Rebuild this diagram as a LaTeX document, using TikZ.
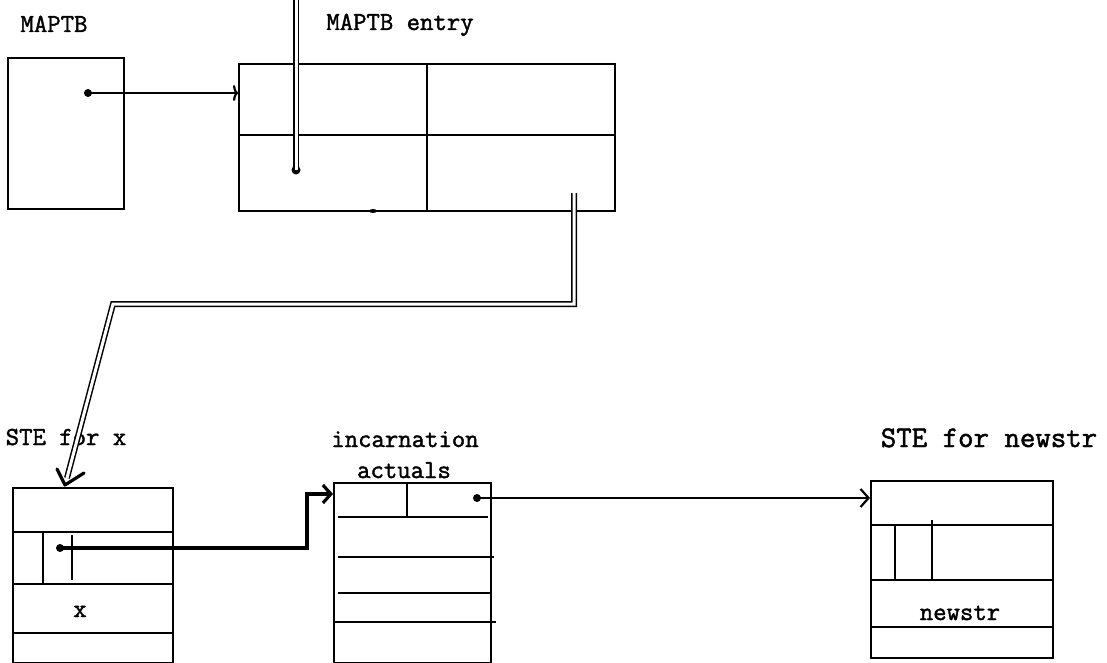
\documentclass[tikz,border=0pt]{standalone}
\usepackage{fontspec}
\newfontfamily\twfont{Latin Modern Mono}[AutoFakeBold=1.6]
\usetikzlibrary{arrows.meta}
\begin{document}
\begin{tikzpicture}[x=1pt,y=-1pt,
  box/.style={draw, line width=2pt, inner sep=0pt, anchor=north west},
  rule/.style={line width=1.8pt},
  lbl/.style={font=\twfont\bfseries\fontsize{26}{28}\selectfont, anchor=base, inner sep=0pt},
  ptr/.style={line width=2.2pt},
  dbl/.style={double, double distance=3pt, line width=1.5pt},
  dotmark/.style={circle, fill, inner sep=0pt, minimum size=8pt}]
\useasboundingbox (0,0) rectangle (1107,663);

% labels
\node[lbl] (lmaptb) at (54,32) {MAPTB};
\node[lbl] (lentry) at (400,30) {MAPTB entry};
\node[lbl] (lstex) at (66,445) {STE for x};
\node[lbl] (linc1) at (405,447) {incarnation};
\node[lbl] (linc2) at (404,478) {actuals};
\node[lbl, font=\twfont\bfseries\fontsize{30}{32}\selectfont] (lnew) at (989,447) {STE for newstr};

% boxes
\node[box, minimum width=116pt, minimum height=151pt] (maptb) at (7,57) {};
\node[box, minimum width=376pt, minimum height=147pt] (entry) at (238,63) {};
\node[box, minimum width=160pt, minimum height=175pt] (stex) at (12,487) {};
\node[box, minimum width=157pt, minimum height=180pt] (inc) at (333,482) {};
\node[box, minimum width=182pt, minimum height=177pt] (stenew) at (870,480) {};

% MAPTB entry inner lines
\draw[rule] (238,135) -- (614,135);
\draw[rule] (427,63) -- (427,210);
\fill (373,211) ellipse (4 and 2);

% STE for x inner lines
\draw[rule] (12,532) -- (172,532);
\draw[rule] (12,584) -- (172,584);
\draw[rule] (12,633) -- (172,633);
\draw[rule] (43,532) -- (43,584);
\draw[rule] (72,535) -- (72,580);
\node[lbl] (tx) at (80,617) {x};

% incarnation actuals inner lines
\draw[rule] (338,517) -- (488,517);
\draw[rule] (338,557) -- (494,557);
\draw[rule] (338,593) -- (490,593);
\draw[rule] (333,622) -- (496,622);
\draw[rule] (407,482) -- (407,517);

% STE for newstr inner lines
\draw[rule] (870,525) -- (1052,525);
\draw[rule] (870,580) -- (1052,580);
\draw[rule] (870,627) -- (1052,627);
\draw[rule] (895,525) -- (895,580);
\draw[rule] (932,520) -- (932,580);
\node[lbl] (tnew) at (960,620) {newstr};

% pointer: MAPTB -> MAPTB entry
\node[dotmark] (d1) at (88,93) {};
\draw[ptr, -{To[length=5pt,width=16pt]}] (d1.center) -- (entry.west |- d1);

% double line from top into MAPTB entry
\coordinate (t2) at (296,0);
\node[dotmark, minimum size=9pt] (d2) at (296,170) {};
\draw[dbl] (t2) -- (d2.center);

% double line from MAPTB entry to STE for x
\coordinate (s1) at (574,193);
\coordinate (a3) at (65,485);
\draw[dbl] (s1) -- (574,304) -- (113,304) -- (67,478);
\draw[line width=3.2pt, line cap=round, line join=round] (57,469) -- (a3) -- (84,473);

% pointer: STE for x -> incarnation actuals
\node[dotmark] (d3) at (60,548) {};
\draw[line width=3.2pt, -{Straight Barb[length=8pt,width=18pt]}] (d3.center) -- (307,548) -- (307,494) -- (inc.west |- 0,494);

% pointer: incarnation actuals -> STE for newstr
\node[dotmark] (d4) at (477,498) {};
\draw[ptr, -{Straight Barb[length=8pt,width=18pt]}] (d4.center) -- (stenew.west |- d4);
\end{tikzpicture}
\end{document}
